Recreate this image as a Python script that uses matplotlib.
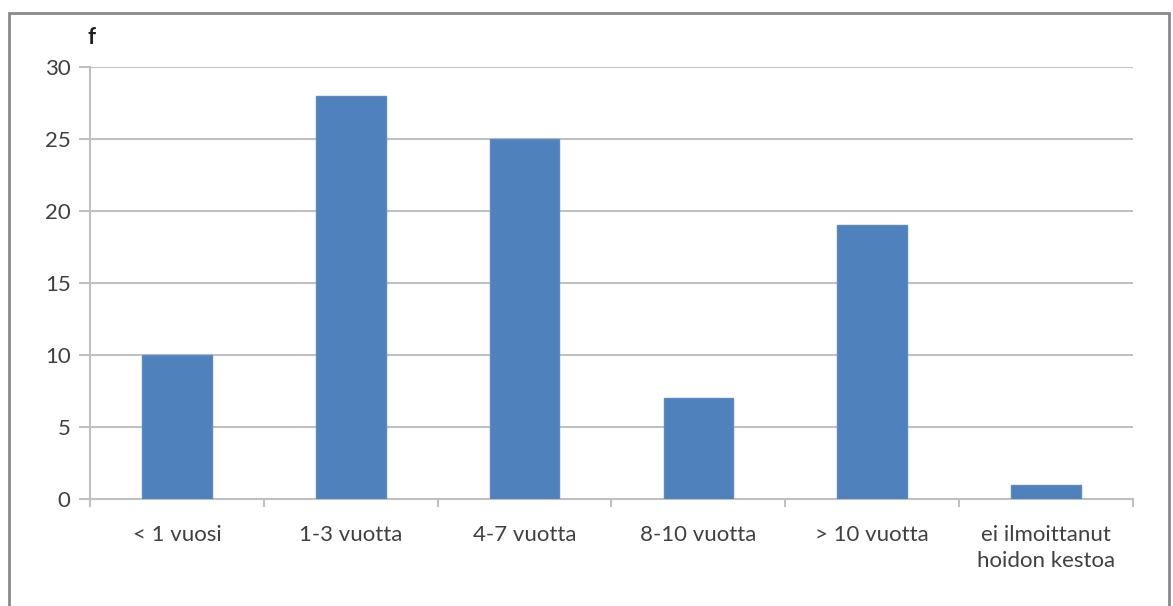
import matplotlib

matplotlib.use("Agg")

import matplotlib.pyplot as plt
from matplotlib.patches import Rectangle
import numpy as np

categories = ["< 1 vuosi", "1-3 vuotta", "4-7 vuotta", "8-10 vuotta", "> 10 vuotta",
              "ei ilmoittanut\nhoidon kestoa"]
counts = [10, 28, 25, 7, 19, 1]
y_ticks = [0, 5, 10, 15, 20, 25, 30]

plt.rcParams["font.family"] = ["Lato", "DejaVu Sans"]

W, H = 1173, 606
fig = plt.figure(figsize=(W / 100, H / 100), dpi=100)
fig.patch.set_facecolor("white")

# outer chart frame (bottom edge runs off the canvas)
fig.patches.append(Rectangle((9 / W, -0.05), (1169 - 9) / W, (H - 13) / H + 0.05,
                             transform=fig.transFigure, fill=False,
                             edgecolor="#8a8a8a", linewidth=2))

ax = fig.add_axes([90 / W, (H - 499) / H, (1133 - 90) / W, (499 - 67) / H])
x = np.arange(len(categories))
ax.bar(x, counts, width=0.4, color="#4f81bd", edgecolor="#5b8ac4", linewidth=1, zorder=3)

ax.set_xlim(-0.5, len(categories) - 0.5)
ax.set_ylim(0, 30)
ax.set_yticks(y_ticks)
ax.yaxis.grid(True, color="#c0c0c0", linewidth=1.5, zorder=0)

for side in ("top", "right"):
    ax.spines[side].set_visible(False)
for side in ("left", "bottom"):
    ax.spines[side].set_color("#c0c0c0")
    ax.spines[side].set_linewidth(1.5)

ax.tick_params(axis="y", length=8, width=1.5, color="#c0c0c0", labelsize=16,
               labelcolor="#404040", pad=6)
ax.set_xticks(np.arange(len(categories) + 1) - 0.5, minor=False)
ax.set_xticklabels([])
ax.tick_params(axis="x", which="major", length=6, width=1.5, color="#c0c0c0")
ax.set_xticks(x, minor=True)
ax.set_xticklabels(categories, minor=True, linespacing=1.35)
ax.tick_params(axis="x", which="minor", length=0, labelsize=16, labelcolor="#404040", pad=19)

fig.text(87 / W, (H - 38) / H, "f", fontsize=16, fontweight="bold", color="#202020",
         va="center", ha="left")

fig.savefig("out.png", dpi=100)
